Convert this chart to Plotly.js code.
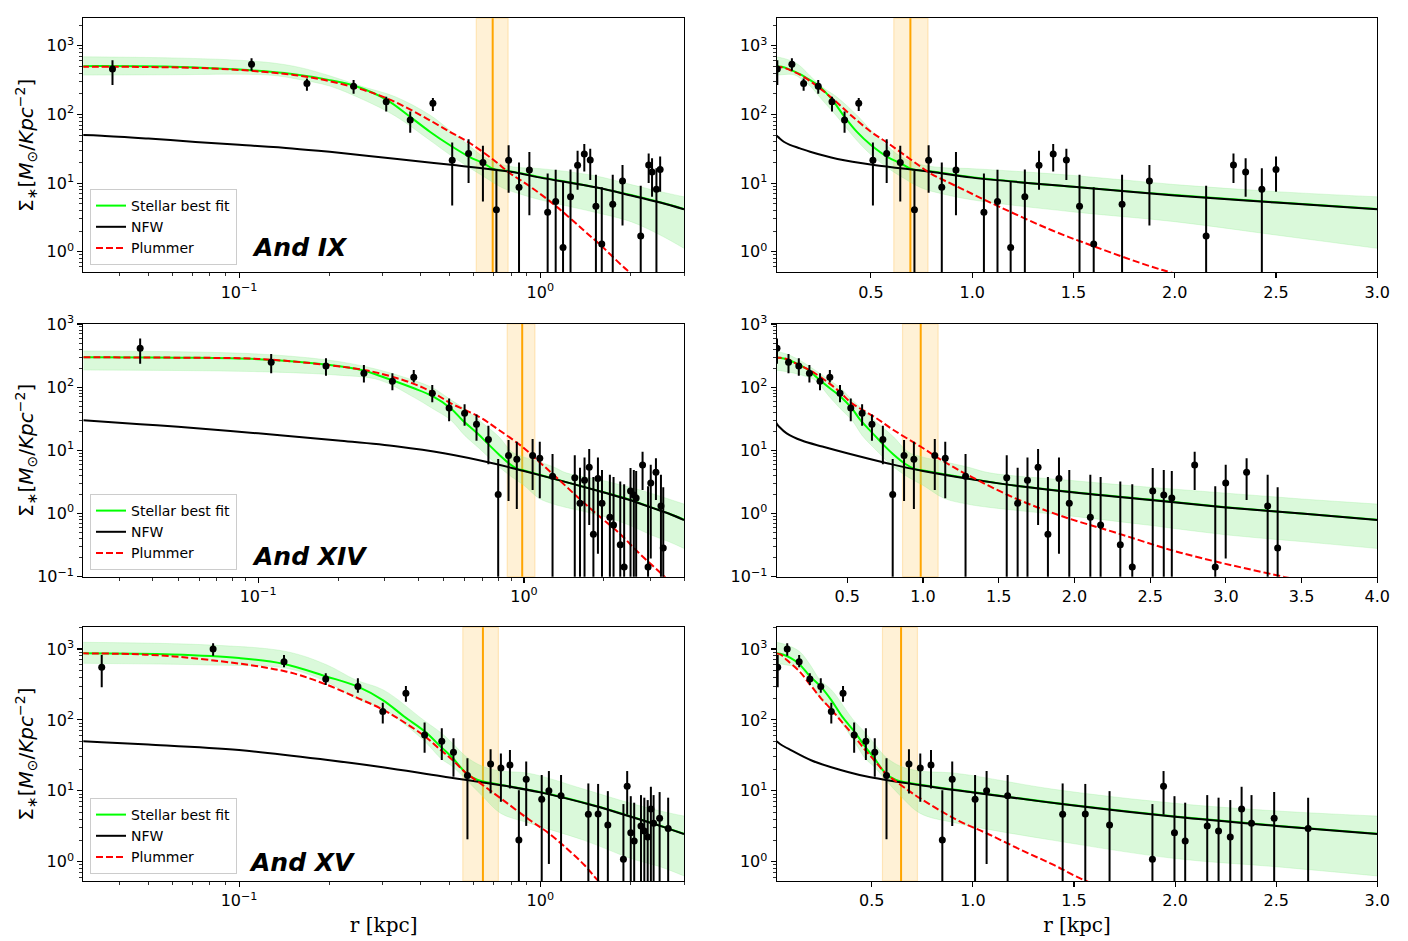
<!DOCTYPE html>
<html><head><meta charset="utf-8">
<script src="https://cdn.plot.ly/plotly-3.0.1.min.js"></script>
<style>html,body{margin:0;padding:0;background:#fff}</style>
</head><body>
<div id="chart" style="width:1408px;height:941px"></div>
<script>
// ---------------- And IX ----------------
const r9  = [0.038,0.11,0.168,0.24,0.308,0.37,0.44,0.51,0.578,0.645,0.715,0.785,0.85,0.92,1.058,1.125,1.19,1.26,1.33,1.40,1.465,1.53,1.60,1.74,1.875,2.155,2.29,2.35,2.43,2.50];
const s9  = [457,540,282,258,153,83,145,21.5,27,20,4.1,21.5,8.7,15.5,3.75,5.4,1.15,6.3,18.2,26.5,21.6,4.6,1.3,4.9,10.7,1.7,18.3,14.5,8.1,15.8];
const hi9 = [617,655,333,316,181,110,174,39,43.6,35,15.2,35.5,20,28.4,13.8,15.6,10.5,15.8,29.6,37,31.6,13.2,8.7,13.2,18.3,9.1,27,23,16.4,24.3];
const lo9 = [269,434,221,200,110,54,112,4.7,10,5.4,0.01,7.2,0.01,3.4,0.01,0.01,0.01,0.01,8,14.7,11.1,0.01,0.01,0.01,2.4,0.01,10,6.3,0.01,7.5];
const fitR9 = [0.03,0.06,0.1,0.15,0.2,0.243,0.31,0.37,0.43,0.5,0.585,0.648,0.7,0.8,1.0,1.5,2.0,2.5,3.0];
const fitS9 = [505,495,450,387,316,259,162,92,56,35.8,23.7,19.4,16.0,14.8,12.2,8.8,6.7,5.25,4.2];
const nfR9 = [0.03,0.035,0.05,0.07,0.1,0.15,0.2,0.335,0.515,0.795,1.0,1.54,2.0,2.5,3.0];
const nfS9 = [50,49,44.5,40,36,32,28.5,22.4,18.3,14.6,12.0,8.6,6.6,5.2,4.14];
const plR9 = [0.03,0.05,0.08,0.12,0.17,0.24,0.31,0.4,0.5,0.585,0.7,0.795,0.927,1.135,1.39,1.6,1.94,2.2];
const plS9 = [495,490,468,418,350,250,171,98,56,38,21.7,13.8,8.85,4.5,2.07,1.2,0.54,0.35];
const bR9  = [0.03,0.06,0.1,0.13,0.16,0.2,0.26,0.33,0.43,0.5,0.585,0.65,0.75,0.85,1.0,1.5,2.0,2.5,3.0];
const bUp9 = [690,665,615,560,480,365,250,181,98,59,34,24,18.5,16.8,16.2,12.9,9.5,7.5,6.3];
const bLo9 = [374,378,385,370,320,259,162,95,42,26,16.5,12.4,8.5,7,5.7,3.8,2.74,1.75,1.12];

// ---------------- And XIV ----------------
const r14  = [0.036,0.112,0.18,0.25,0.32,0.385,0.452,0.523,0.598,0.663,0.735,0.80,0.875,0.94,1.078,1.147,1.281,1.553,1.625,1.69,1.76,1.825,1.898,1.966,2.105,2.173,2.303,2.382,2.517,2.59,2.643,2.794,2.93,2.999,3.137,3.276,3.342];
const s14  = [412,247,216,166,124,143,80,47,38.5,26,14.9,2.0,8.3,7.2,8.3,7.5,3.9,3.7,1.45,3.35,5.4,0.47,3.6,1.45,0.87,0.66,0.32,0.142,2.27,1.96,1.76,5.86,0.142,3.04,4.49,1.32,0.284];
const hi14 = [590,335,286,224,166,187,108,66,53.5,37,24.5,7.3,14.6,13.7,15.1,13.7,8.75,8.4,5.3,7.7,10.5,3.8,7.7,4.9,4.1,3.8,3.2,2.9,5.25,4.9,4.7,9.5,2.7,5.9,7.5,4.1,2.6];
const lo14 = [235,166,151,119,89,119,57.5,29,24.5,14.2,6.0,0.001,1.58,1.18,2.36,1.74,0.001,0.001,0.001,0.001,0.66,0.001,0.23,0.001,0.001,0.001,0.001,0.001,0.001,0.001,0.001,2.36,0.001,0.195,1.64,0.001,0.001];
const fitR14 = [0.022,0.05,0.1,0.18,0.25,0.286,0.381,0.453,0.531,0.587,0.668,0.739,0.805,0.879,0.944,1.0,1.5,2.0,2.5,3.0,3.5,4.0];
const fitS14 = [297,293,277,228,183,152,98,72,46,30,18.6,12.2,8.6,6.2,5.1,4.8,3.0,2.17,1.66,1.26,1.0,0.8];
const nfR14 = [0.022,0.036,0.05,0.1,0.2,0.335,0.5,0.77,1.0,1.5,2.0,2.5,3.0,3.5,4.0];
const nfS14 = [30,26,23.7,18.6,14.3,11.5,9.0,6.2,4.7,3.0,2.15,1.64,1.25,1.0,0.79];
const plR14 = [0.022,0.05,0.1,0.18,0.25,0.286,0.381,0.453,0.531,0.678,0.805,0.986,1.14,1.32,1.61,1.91,2.27,2.7,3.3,4.0];
const plS14 = [297,293,280,226,187,166,115,83,55.5,34,21,11.4,6.6,3.8,1.74,0.92,0.5,0.24,0.11,0.05];
const bR14  = [0.022,0.1,0.2,0.286,0.381,0.453,0.531,0.6,0.678,0.805,0.9,1.0,1.14,1.3,1.44,2.0,2.5,3.0,3.5,4.0];
const bUp14 = [374,335,255,187,130,98,63,45,30,16.4,9.5,7.8,6.6,5.4,4.4,3.3,2.6,2.1,1.7,1.41];
const bLo14 = [187,176,155,130,71,46,30,17,10.8,5.5,3.8,2.8,1.74,1.4,1.25,0.9,0.65,0.46,0.36,0.28];

// ---------------- And XV ----------------
const r15  = [0.035,0.082,0.141,0.194,0.248,0.30,0.358,0.413,0.471,0.515,0.573,0.684,0.74,0.793,0.849,0.898,1.011,1.068,1.172,1.444,1.556,1.676,1.888,1.943,1.997,2.05,2.159,2.215,2.273,2.329,2.378,2.49,2.658];
const s15  = [551,1000,663,378,297,131,237,61,50,35,16.5,23.9,21,23.1,2.02,14.5,7.6,10,8.5,4.66,4.7,3.3,1.08,11.6,2.57,1.96,3.2,2.71,2.23,5.53,3.5,4.1,2.95];
const hi15 = [823,1202,823,454,386,175,301,92,76,55,28.7,38.5,33.7,37.6,10.2,25.8,16.7,19,16.7,12.7,12.5,9.9,6.5,19,8.4,6.8,8.7,8.0,7.4,11.4,8.7,9.6,8.0];
const lo15 = [288,805,551,311,242,89,181,34.5,27.2,15.8,2.07,9.2,7.0,10.8,0.01,3.2,0.01,0.93,0.01,0.01,0.01,0.01,0.01,4.6,0.01,0.01,0.01,0.01,0.01,0.01,0.01,0.01,0.01];
const fitR15 = [0.03,0.06,0.1,0.14,0.195,0.25,0.3,0.354,0.415,0.467,0.511,0.569,0.62,0.7,1.0,1.5,2.0,2.5,3.0];
const fitS15 = [868,835,745,620,410,290,190,111,68,42,29.3,17.6,14.2,12.7,9.6,6.25,4.35,3.22,2.47];
const nfR15 = [0.03,0.035,0.05,0.1,0.2,0.3,0.47,0.74,1.0,1.5,2.0,2.5,3.0];
const nfS15 = [50,48.5,45,37.6,27,21.5,16,12,9.5,6.2,4.3,3.2,2.45];
const plR15 = [0.03,0.05,0.08,0.144,0.193,0.25,0.3,0.35,0.415,0.466,0.511,0.569,0.645,0.74,0.92,1.07,1.24,1.4,1.55,1.8];
const plS15 = [868,830,700,479,320,200,140,95,58,38,27.2,17.6,12,7.8,3.9,2.5,1.46,0.9,0.55,0.3];
const bR15  = [0.03,0.08,0.144,0.195,0.244,0.302,0.409,0.47,0.511,0.569,0.645,0.74,0.92,1.4,2.0,2.5,3.0];
const bUp15 = [1242,1138,917,600,366,263,100,65,47,30,22,19,17.6,10.5,6.65,5.2,4.4];
const bLo15 = [628,594,533,346,201,140,52,28,22,14.2,8.3,4.8,3.5,2.0,1.11,0.85,0.63];

// half-light (orange) markers: centre and band
const galaxyNames = ['And IX','And XIV','And XV'];
const halfR   = [0.695, 0.985, 0.645];
const halfLo  = [0.613, 0.865, 0.553];
const halfHi  = [0.782, 1.10, 0.726];

// tick labels
const yTickVals = [0.1, 1, 10, 100, 1000];
const yTickText = ['10<sup>−1</sup>','10<sup>0</sup>','10<sup>1</sup>','10<sup>2</sup>','10<sup>3</sup>'];
const xLogTickVals = [0.1, 1];
const xLogTickText = ['10<sup>−1</sup>','10<sup>0</sup>'];
const legendNames = ['Stellar best fit','NFW','Plummer'];

const rows = [
  {r:r9,s:s9,hi:hi9,lo:lo9,fitR:fitR9,fitS:fitS9,nfR:nfR9,nfS:nfS9,plR:plR9,plS:plS9,bR:bR9,bUp:bUp9,bLo:bLo9},
  {r:r14,s:s14,hi:hi14,lo:lo14,fitR:fitR14,fitS:fitS14,nfR:nfR14,nfS:nfS14,plR:plR14,plS:plS14,bR:bR14,bUp:bUp14,bLo:bLo14},
  {r:r15,s:s15,hi:hi15,lo:lo15,fitR:fitR15,fitS:fitS15,nfR:nfR15,nfS:nfS15,plR:plR15,plS:plS15,bR:bR15,bUp:bUp15,bLo:bLo15}
];

// layout geometry (paper fractions)
const W = 1408, H = 941;
const xDomL = [83.3/W, 684/W], xDomR = [776.7/W, 1377.3/W];
const yDoms = [[1-272.3/H, 1-18.3/H],[1-576.7/H, 1-324/H],[1-881/H, 1-627.3/H]];
const yRanges = [[-0.3,3.4],[-1,3],[-0.272,3.306]];
const xRangesL = [[Math.log10(0.0304),Math.log10(3.0)],[Math.log10(0.022),Math.log10(4.0)],[Math.log10(0.0304),Math.log10(3.0)]];
const xRangesR = [[0.035,3.0],[0.034,4.0],[0.03,3.0]];
const legendPos = [265, 570, 874];
const labelPos = [[250,248],[250,556],[247,862]];

const traces = [];
const layout = {
  width: W, height: H, autosize:false,
  margin:{l:0,r:0,t:0,b:0},
  paper_bgcolor:'white', plot_bgcolor:'white',
  showlegend:true, hovermode:false,
  font:{family:'DejaVu Sans', color:'black'},
  shapes:[], annotations:[]
};

const axisBase = {
  showline:true, linecolor:'black', linewidth:1.1, mirror:true,
  ticks:'outside', ticklen:5, tickwidth:1.1, tickcolor:'black',
  showgrid:false, zeroline:false,
  tickfont:{family:'DejaVu Sans', size:16, color:'black'}
};
const minorLog = {ticks:'outside', ticklen:3, tickwidth:0.8, tickcolor:'black', dtick:'D1', showgrid:false};

rows.forEach((d, i) => {
  const legId = i === 0 ? 'legend' : 'legend' + (i+1);
  ['L','R'].forEach((side, j) => {
    const n = 2*i + j + 1;
    const xa = n === 1 ? 'x' : 'x' + n;
    const ya = n === 1 ? 'y' : 'y' + n;
    const xKey = n === 1 ? 'xaxis' : 'xaxis' + n;
    const yKey = n === 1 ? 'yaxis' : 'yaxis' + n;
    const isLeft = side === 'L';
    const common = {xaxis:xa, yaxis:ya, hoverinfo:'skip'};
    traces.push(Object.assign({x:d.bR, y:d.bLo, mode:'lines', legend:legId, line:{width:0.8, color:'rgba(144,238,144,0.35)', shape:'spline'}, showlegend:false}, common));
    traces.push(Object.assign({x:d.bR, y:d.bUp, mode:'lines', legend:legId, fill:'tonexty', fillcolor:'rgba(144,238,144,0.33)', line:{width:0.8, color:'rgba(144,238,144,0.35)', shape:'spline'}, showlegend:false}, common));
    traces.push(Object.assign({x:d.fitR, y:d.fitS, mode:'lines', name:legendNames[0], legend:legId, showlegend:isLeft, line:{color:'#00ff00', width:2, shape:'spline'}}, common));
    traces.push(Object.assign({x:d.nfR, y:d.nfS, mode:'lines', name:legendNames[1], legend:legId, showlegend:isLeft, line:{color:'black', width:2, shape:'spline'}}, common));
    traces.push(Object.assign({x:d.plR, y:d.plS, mode:'lines', name:legendNames[2], legend:legId, showlegend:isLeft, line:{color:'#ff0000', width:2, dash:'7px,3px', shape:'spline'}}, common));
    traces.push(Object.assign({
      x:d.r, y:d.s, mode:'markers', showlegend:false, legend:legId,
      marker:{color:'black', size:7},
      error_y:{type:'data', symmetric:false,
        array:d.hi.map((h,k)=>h-d.s[k]),
        arrayminus:d.lo.map((l,k)=>d.s[k]-l),
        color:'black', thickness:2, width:0}
    }, common));

    // orange band + line
    layout.shapes.push({type:'rect', xref:xa, yref:ya+' domain', x0:halfLo[i], x1:halfHi[i], y0:0, y1:1,
      fillcolor:'rgba(255,165,0,0.16)', line:{width:1.2, color:'rgba(255,165,0,0.22)'}, layer:'below'});
    layout.shapes.push({type:'line', xref:xa, yref:ya+' domain', x0:halfR[i], x1:halfR[i], y0:0, y1:1,
      line:{width:2, color:'#ffa500'}, layer:'below'});

    const xaxis = Object.assign({}, axisBase, {domain: isLeft ? xDomL : xDomR, anchor: ya});
    if (isLeft) {
      Object.assign(xaxis, {type:'log', range:xRangesL[i], tickmode:'array', tickvals:xLogTickVals, ticktext:xLogTickText, minor:minorLog});
    } else {
      Object.assign(xaxis, {type:'linear', range:xRangesR[i], tickmode:'linear', tick0:0.5, dtick:0.5, tickformat:'.1f'});
    }
    if (i === 2) xaxis.title = {text:'r [kpc]', standoff:8, font:{family:'DejaVu Serif', size:20, color:'black'}};
    const yaxis = Object.assign({}, axisBase, {domain:yDoms[i], anchor:xa, type:'log', range:yRanges[i],
      tickmode:'array', tickvals:yTickVals, ticktext:yTickText, minor:minorLog});
    if (isLeft) yaxis.title = {text:'Σ<sub>∗</sub>[<i>M</i><sub>⊙</sub>/<i>Kpc</i><sup>−2</sup>]', font:{family:'DejaVu Sans', size:20, color:'black'}};
    layout[xKey] = xaxis;
    layout[yKey] = yaxis;
  });

  layout[legId] = {x:90/W, y:1-legendPos[i]/H, xanchor:'left', yanchor:'bottom', traceorder:'normal',
    bgcolor:'rgba(255,255,255,0.8)', bordercolor:'#cccccc', borderwidth:1,
    font:{family:'DejaVu Sans', size:14, color:'black'}, itemwidth:30, tracegroupgap:0};
  layout.annotations.push({text:'<b><i>'+galaxyNames[i]+'</i></b>', xref:'paper', yref:'paper',
    x:labelPos[i][0]/W, y:1-labelPos[i][1]/H, xanchor:'left', yanchor:'middle', showarrow:false,
    font:{family:'DejaVu Sans', size:25, color:'black'}});
});

Plotly.newPlot('chart', traces, layout, {displayModeBar:false, staticPlot:true});
</script>
</body></html>
